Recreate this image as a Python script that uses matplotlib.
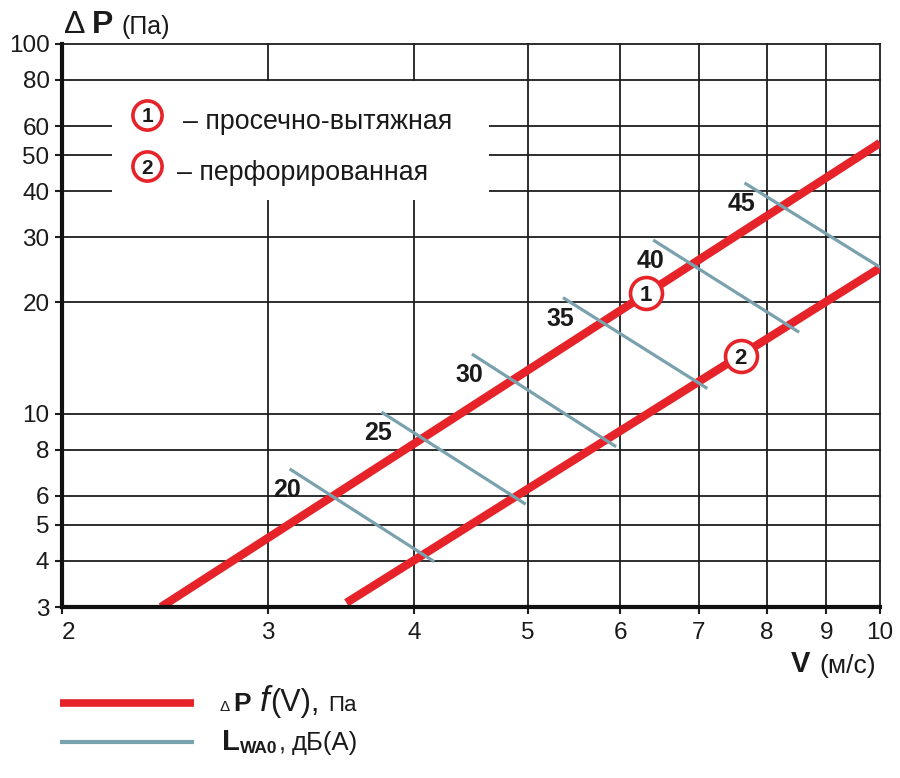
import matplotlib
matplotlib.use("Agg")
import matplotlib.pyplot as plt
from matplotlib.patches import Rectangle
from matplotlib.ticker import FixedLocator, FixedFormatter, NullLocator

plt.rcParams['font.family'] = ['Liberation Sans', 'DejaVu Sans']
plt.rcParams['text.color'] = '#1a1a1a'

# data (V in m/s, dP in Pa)
v_curve1 = [2.43, 10.0]
dp_curve1 = [3.0, 54.0]
v_curve2 = [3.50, 10.0]
dp_curve2 = [3.08, 24.8]

noise_levels = [20, 25, 30, 35, 40, 45]
noise_v_start = [3.13, 3.75, 4.48, 5.36, 6.40, 7.66]
noise_dp_start = [7.09, 10.1, 14.5, 20.6, 29.5, 42.1]
noise_v_end = [4.16, 4.98, 5.95, 7.12, 8.53, 10.0]
noise_dp_end = [3.98, 5.69, 8.14, 11.7, 16.6, 24.9]

curve_ids = ['1', '2']
curve_names = ['– просечно-вытяжная', '– перфорированная']
marker_v = [6.31, 7.60]
marker_dp = [21.2, 14.3]

x_ticks = [2, 3, 4, 5, 6, 7, 8, 9, 10]
y_ticks = [3, 4, 5, 6, 8, 10, 20, 30, 40, 50, 60, 80, 100]

RED = '#e52329'
BLUE = '#7aa1ae'
GRID = '#1e1e1e'

W, H = 900, 778
fig = plt.figure(figsize=(W / 100, H / 100), dpi=100)
ax = fig.add_axes([62 / W, 1 - 607 / H, 818 / W, 563 / H])
ax.set_xscale('log')
ax.set_yscale('log')
ax.set_xlim(2, 10)
ax.set_ylim(3, 100)

ax.xaxis.set_major_locator(FixedLocator(x_ticks))
ax.xaxis.set_major_formatter(FixedFormatter([str(t) for t in x_ticks]))
ax.xaxis.set_minor_locator(NullLocator())
ax.yaxis.set_major_locator(FixedLocator(y_ticks))
ax.yaxis.set_major_formatter(FixedFormatter([str(t) for t in y_ticks]))
ax.yaxis.set_minor_locator(NullLocator())
ax.tick_params(axis='both', direction='out', length=5, width=1.5, colors=GRID,
               labelsize=17.5, labelcolor='#1a1a1a')
ax.tick_params(axis='x', pad=6)
ax.tick_params(axis='y', pad=4)
fig.canvas.draw()
ax.get_xticklabels()[0].set_horizontalalignment('left')

ax.set_axisbelow(True)
ax.grid(True, color=GRID, linewidth=1.3)
for gl in ax.get_xgridlines() + ax.get_ygridlines():
    gl.set_clip_on(False)

for side in ['top', 'right']:
    ax.spines[side].set_visible(False)
for side in ['left', 'bottom']:
    ax.spines[side].set_linewidth(3)
    ax.spines[side].set_color('#111111')
    ax.spines[side].set_zorder(5)

# white panel behind the curve names
ax.add_patch(Rectangle((0.061, 0.723), 0.461, 0.211, transform=ax.transAxes,
                       facecolor='white', edgecolor='none', zorder=1))

# pressure curves
ax.plot(v_curve1, dp_curve1, color=RED, linewidth=6, solid_capstyle='butt', zorder=3)
ax.plot(v_curve2, dp_curve2, color=RED, linewidth=6, solid_capstyle='butt', zorder=3)

# noise level lines
for lvl, x0, y0, x1, y1 in zip(noise_levels, noise_v_start, noise_dp_start,
                               noise_v_end, noise_dp_end):
    ax.plot([x0, x1], [y0, y1], color=BLUE, linewidth=2.3, solid_capstyle='butt', zorder=4)
    ax.annotate(str(lvl), (x0, y0), xytext=(-3, -21), textcoords='offset pixels',
                ha='center', va='center', fontsize=18, fontweight='bold', zorder=6)

# numbered circles on the curves
ax.plot(marker_v, marker_dp, linestyle='none', marker='o', ms=23, mfc='white',
        mec=RED, mew=2.6, zorder=6)
for cid, x, y in zip(curve_ids, marker_v, marker_dp):
    ax.text(x, y, cid, ha='center', va='center_baseline', fontsize=16,
            fontweight='bold', zorder=7)

# circles and names inside the white panel
key_y = [0.874, 0.783]
ax.plot([0.104, 0.104], key_y, transform=ax.transAxes, linestyle='none', marker='o',
        ms=21, mfc='white', mec=RED, mew=2.6, zorder=6, clip_on=False)
for cid, y in zip(curve_ids, key_y):
    ax.text(0.104, y, cid, transform=ax.transAxes, ha='center', va='center_baseline',
            fontsize=15, fontweight='bold', zorder=7)

renderer = fig.canvas.get_renderer()


def put_row(x, y, parts):
    """write text pieces one after another, x and y in pixels from top-left"""
    for s, size, weight, style, gap, dy in parts:
        t = fig.text(x / W, 1 - (y + dy) / H, s, fontsize=size, fontweight=weight,
                     fontstyle=style, va='baseline', ha='left')
        bb = t.get_window_extent(renderer)
        x = bb.x1 + gap


put_row(183, 129, [(curve_names[0], 19.3, 'normal', 'normal', 0, 0)])
put_row(177, 180, [(curve_names[1], 19.3, 'normal', 'normal', 0, 0)])

# axis titles
put_row(64, 33, [('Δ', 23, 'normal', 'normal', 6, 0),
                 ('P', 23, 'bold', 'normal', 9, 0),
                 ('(Па)', 18, 'normal', 'normal', 0, 1)])
put_row(791, 672, [('V', 21, 'bold', 'normal', 9, 0),
                   ('(м/с)', 19, 'normal', 'normal', 0, 1)])

# bottom legend
fig.add_artist(plt.Line2D([60 / W, 194 / W], [1 - 703 / H, 1 - 703 / H],
                          color=RED, linewidth=5.5, solid_capstyle='butt'))
fig.add_artist(plt.Line2D([60 / W, 194 / W], [1 - 742 / H, 1 - 742 / H],
                          color=BLUE, linewidth=3, solid_capstyle='butt'))
put_row(220, 711, [('Δ', 11, 'normal', 'normal', 3, 0),
                   ('P', 19, 'bold', 'normal', 9, 0),
                   ('f', 25, 'normal', 'italic', 1, 0),
                   ('(V),', 22, 'normal', 'normal', 8, 0),
                   ('Па', 16, 'normal', 'normal', 0, 0)])
put_row(222, 750, [('L', 21, 'bold', 'normal', 0, 0),
                   ('WA0', 12.5, 'bold', 'normal', 1, 3),
                   (',', 18, 'normal', 'normal', 6, 0),
                   ('дБ(А)', 18.5, 'normal', 'normal', 0, 0)])

fig.savefig('out.png', dpi=100)
